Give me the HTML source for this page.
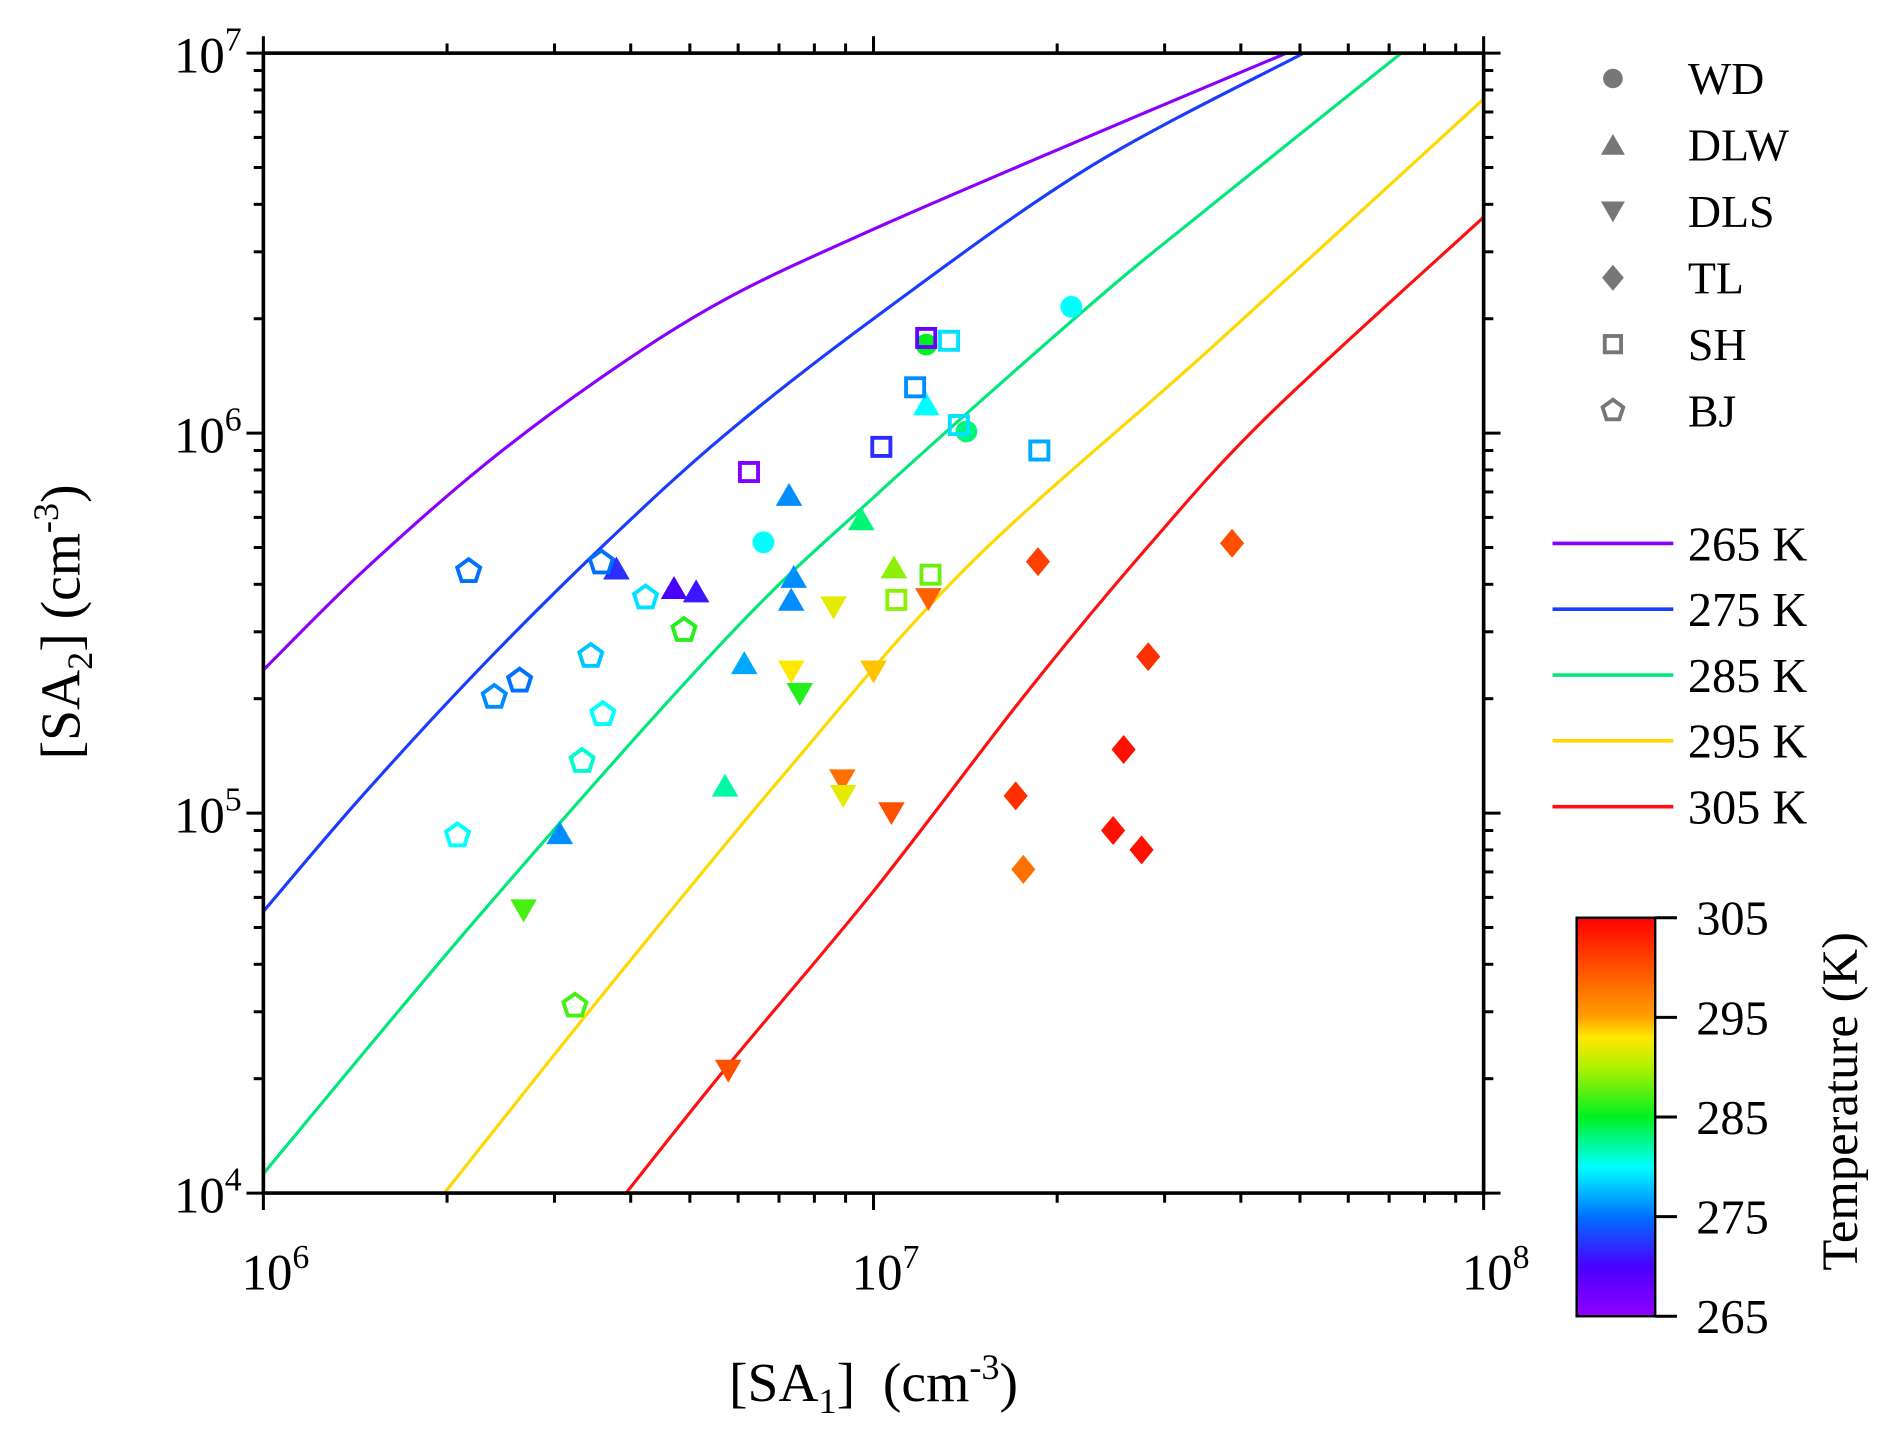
<!DOCTYPE html>
<html><head><meta charset="utf-8"><style>
html,body{margin:0;padding:0;background:#fff}
svg{display:block}
text{font-family:"Liberation Serif",serif;fill:#000}
</style></head><body>
<svg id="chart" width="1892" height="1437" viewBox="0 0 1566 1190" preserveAspectRatio="none" xmlns="http://www.w3.org/2000/svg">
<defs>
<linearGradient id="cbar" x1="0" y1="1" x2="0" y2="0">
<stop offset="0" stop-color="#9000ff"/><stop offset="0.125" stop-color="#4a00ff"/><stop offset="0.25" stop-color="#0070ff"/><stop offset="0.375" stop-color="#00ffff"/><stop offset="0.5" stop-color="#00f020"/><stop offset="0.625" stop-color="#b0f000"/><stop offset="0.7" stop-color="#ffe800"/><stop offset="0.75" stop-color="#ffa000"/><stop offset="0.875" stop-color="#ff5000"/><stop offset="1" stop-color="#ff0000"/>
</linearGradient>
<clipPath id="plotclip"><rect x="218" y="44" width="1010" height="944"/></clipPath>
</defs>
<g id="curves" clip-path="url(#plotclip)"></g>
<g id="points"></g>
<g id="axes"></g>
<g id="legend"></g>
<g id="cb"></g>
</svg>
<script>
const NS="http://www.w3.org/2000/svg";
// ---- data ----
const curveTemps=[265,275,285,295,305];
const curveColors=["#8a00ff","#1a3cff","#00e878","#ffd800","#ff1010"];
const curve265SA1=[1e6,1.45e6,2.29e6,3.62e6,5.71e6,1e7,2.24e7,4.75e7];
const curve265SA2=[2.38e5,4.30e5,8.19e5,1.418e6,2.247e6,3.44e6,6.01e6,1e7];
const curve275SA1=[1e6,1.45e6,2.29e6,3.62e6,5.71e6,1e7,2.24e7,5.07e7];
const curve275SA2=[5.51e4,1.107e5,2.45e5,5.09e5,9.9e5,2.0e6,4.97e6,1e7];
const curve285SA1=[1e6,2.29e6,5.71e6,1e7,2.24e7,3.54e7,7.33e7];
const curve285SA2=[1.125e4,5.51e4,2.86e5,6.77e5,2.14e6,3.92e6,1e7];
const curve295SA1=[1.98e6,3.62e6,7.17e6,1.42e7,3.54e7,1e8];
const curve295SA2=[1e4,3.37e4,1.277e5,4.43e5,1.65e6,7.57e6];
const curve305SA1=[3.93e6,5.71e6,1e7,1.785e7,2.815e7,4.44e7,1e8];
const curve305SA2=[1e4,2.12e4,6.23e4,2.08e5,5.02e5,1.114e6,3.7e6];
const curveSA1=[curve265SA1,curve275SA1,curve285SA1,curve295SA1,curve305SA1];
const curveSA2=[curve265SA2,curve275SA2,curve285SA2,curve295SA2,curve305SA2];

const wdSA1=[6.6e6,1.22e7,1.42e7,2.11e7];
const wdSA2=[5.16e5,1.71e6,1.01e6,2.15e6];
const wdT=[280,285,283,280];
const dlwSA1=[7.27e6,7.4e6,7.33e6,3.79e6,4.71e6,5.12e6,6.14e6,5.71e6,3.06e6,9.55e6,1.08e7,1.22e7];
const dlwSA2=[6.87e5,4.18e5,3.64e5,4.4e5,3.91e5,3.83e5,2.48e5,1.18e5,8.85e4,5.93e5,4.43e5,1.19e6];
const dlwT=[276,276,276,272,270,271,277,282,276,283,289,280];
const dlsSA1=[2.67e6,7.33e6,7.57e6,8.6e6,1e7,8.89e6,8.92e6,1.07e7,1.23e7,5.78e6];
const dlsSA2=[5.55e4,2.36e5,2.06e5,3.48e5,2.36e5,1.22e5,1.11e5,1e5,3.66e5,2.1e4];
const dlsT=[287,293,286,292,294,298,292,300,299,300];
const tlSA1=[1.86e7,3.87e7,2.82e7,2.57e7,1.71e7,1.76e7,2.47e7,2.75e7];
const tlSA2=[4.59e5,5.13e5,2.58e5,1.47e5,1.11e5,7.11e4,9.0e4,8.0e4];
const tlT=[301,300,302,304,302,298,304,304];
const shSA1=[1.22e7,1.33e7,1.17e7,1.38e7,1.03e7,6.25e6,1.87e7,1.24e7,1.09e7];
const shSA2=[1.78e6,1.75e6,1.32e6,1.05e6,9.2e5,7.9e5,9.0e5,4.24e5,3.64e5];
const shT=[268,279,276,279,272,266,277,288,289];
const bjSA1=[2.17e6,3.58e6,4.23e6,4.89e6,3.44e6,2.39e6,2.63e6,3.6e6,3.33e6,2.08e6,3.24e6];
const bjSA2=[4.33e5,4.56e5,3.69e5,3.03e5,2.59e5,2.02e5,2.23e5,1.82e5,1.37e5,8.73e4,3.11e4];
const bjT=[275,275,279,286,278,276,275,280,281,280,287];

const xTickExp=[6,7,8];
const yTickExp=[4,5,6,7];
const cbTicks=[265,275,285,295,305];
const legendNames=["WD","DLW","DLS","TL","SH","BJ"];

// ---- scales ----
const X0=218,X1=1228,Y0=988,Y1=44;
function xs(v){return X0+(Math.log10(v)-6)/2*(X1-X0);}
function ys(v){return Y0-(Math.log10(v)-4)/3*(Y0-Y1);}
const cStops=[[265,[144,0,255]],[270,[74,0,255]],[275,[0,112,255]],[280,[0,255,255]],[285,[0,240,32]],[290,[176,240,0]],[293,[255,232,0]],[295,[255,160,0]],[300,[255,80,0]],[305,[255,0,0]]];
function tcol(t){
  for(let i=0;i<cStops.length-1;i++){const a=cStops[i],b=cStops[i+1];
    if(t<=b[0]){const f=Math.max(0,(t-a[0])/(b[0]-a[0]));
      return "rgb("+a[1].map((c,k)=>Math.round(c+(b[1][k]-c)*f)).join(",")+")";}}
  return "rgb(255,0,0)";
}
function el(tag,attrs,parent){const e=document.createElementNS(NS,tag);for(const k in attrs)e.setAttribute(k,attrs[k]);parent.appendChild(e);return e;}

// curves (Catmull-Rom smoothing)
const gC=document.getElementById('curves');
curveTemps.forEach((T,ci)=>{
  const p=curveSA1[ci].map((v,i)=>[xs(v),ys(curveSA2[ci][i])]);
  let d="M"+p[0][0]+","+p[0][1];
  for(let i=0;i<p.length-1;i++){const p0=p[Math.max(0,i-1)],p1=p[i],p2=p[i+1],p3=p[Math.min(p.length-1,i+2)];
    d+=" C"+(p1[0]+(p2[0]-p0[0])/6)+","+(p1[1]+(p2[1]-p0[1])/6)+" "+(p2[0]-(p3[0]-p1[0])/6)+","+(p2[1]-(p3[1]-p1[1])/6)+" "+p2[0]+","+p2[1];}
  const path=el('path',{d:d,fill:'none',stroke:curveColors[ci],'stroke-width':2.6},gC);
  
  
});

// markers
function marker(kind,cx,cy,color,parent,size){
  const s=size||1;let e;
  if(kind==='WD'){e=el('circle',{cx:cx,cy:cy,r:9*s,fill:color},parent);}
  else if(kind==='DLW'){e=el('polygon',{points:[[cx,cy-10*s],[cx+11*s,cy+9*s],[cx-11*s,cy+9*s]].join(' '),fill:color},parent);}
  else if(kind==='DLS'){e=el('polygon',{points:[[cx,cy+10*s],[cx+11*s,cy-9*s],[cx-11*s,cy-9*s]].join(' '),fill:color},parent);}
  else if(kind==='TL'){e=el('polygon',{points:[[cx,cy-12*s],[cx+10*s,cy],[cx,cy+12*s],[cx-10*s,cy]].join(' '),fill:color},parent);}
  else if(kind==='SH'){e=el('rect',{x:cx-7.5*s,y:cy-7.5*s,width:15*s,height:15*s,fill:'none',stroke:color,'stroke-width':3.2},parent);}
  else {const pts=[];for(let k=0;k<5;k++){const a=-Math.PI/2+k*2*Math.PI/5;pts.push([cx+10*s*Math.cos(a),cy+10*s*Math.sin(a)]);}
    e=el('polygon',{points:pts.join(' '),fill:'none',stroke:color,'stroke-width':3.2},parent);}
  return e;
}
const gP=document.getElementById('points');
const series=[['WD',wdSA1,wdSA2,wdT],['DLW',dlwSA1,dlwSA2,dlwT],['DLS',dlsSA1,dlsSA2,dlsT],['TL',tlSA1,tlSA2,tlT],['SH',shSA1,shSA2,shT],['BJ',bjSA1,bjSA2,bjT]];
series.forEach(s=>{s[1].forEach((v,i)=>{
  const m=marker(s[0],xs(v),ys(s[2][i]),tcol(s[3][i]),gP);
  
  
});});

// axes
const gA=document.getElementById('axes');
const frame=el('rect',{x:X0,y:Y1,width:X1-X0,height:Y0-Y1,fill:'none',stroke:'#000','stroke-width':3},gA);


for(let e=6;e<8;e++)for(let m=1;m<10;m++){const x=xs(m*Math.pow(10,e));const L=m===1?14:8;
  el('line',{x1:x,y1:Y0,x2:x,y2:Y0+L,stroke:'#000','stroke-width':2.5},gA);
  el('line',{x1:x,y1:Y1,x2:x,y2:Y1-L,stroke:'#000','stroke-width':2.5},gA);}
el('line',{x1:X1,y1:Y0,x2:X1,y2:Y0+14,stroke:'#000','stroke-width':2.5},gA);
el('line',{x1:X1,y1:Y1,x2:X1,y2:Y1-14,stroke:'#000','stroke-width':2.5},gA);
for(let e=4;e<7;e++)for(let m=1;m<10;m++){const y=ys(m*Math.pow(10,e));const L=m===1?14:8;
  el('line',{x1:X0,y1:y,x2:X0-L,y2:y,stroke:'#000','stroke-width':2.5},gA);
  el('line',{x1:X1,y1:y,x2:X1+L,y2:y,stroke:'#000','stroke-width':2.5},gA);}
el('line',{x1:X0,y1:Y1,x2:X0-14,y2:Y1,stroke:'#000','stroke-width':2.5},gA);
el('line',{x1:X1,y1:Y1,x2:X1+14,y2:Y1,stroke:'#000','stroke-width':2.5},gA);
function pow10Label(x,y,exp,anchor,name){
  const t=el('text',{x:x,y:y,'font-size':42,'text-anchor':anchor},gA);
  t.innerHTML='10<tspan font-size="28" dy="-18">'+exp+'</tspan>';
  
  
}
xTickExp.forEach(e=>pow10Label(xs(Math.pow(10,e))+10,1068,e,'middle','x-tick-label'));
yTickExp.forEach(e=>pow10Label(200,ys(Math.pow(10,e))+16,e,'end','y-tick-label'));
const xt=el('text',{x:723,y:1160,'font-size':46,'text-anchor':'middle'},gA);
xt.innerHTML='[SA<tspan font-size="30" dy="10">1</tspan><tspan dy="-10">]&#160;&#160;(cm</tspan><tspan font-size="30" dy="-18">-3</tspan><tspan dy="18">)</tspan>';


const yt=el('text',{x:0,y:0,'font-size':46,'text-anchor':'middle',transform:'translate(66,515) rotate(-90)'},gA);
yt.innerHTML='[SA<tspan font-size="30" dy="10">2</tspan><tspan dy="-10">] (cm</tspan><tspan font-size="30" dy="-18">-3</tspan><tspan dy="18">)</tspan>';



// legend
const gL=document.getElementById('legend');
legendNames.forEach((n,i)=>{
  const y=65+i*55;
  const m=marker(n,1335,y,'#777',gL,0.9);
  
  
  const t=el('text',{x:1397,y:y+13,'font-size':38},gL);t.textContent=n;
  
  
});
curveTemps.forEach((T,i)=>{
  const y=450+i*54.5;
  const l=el('line',{x1:1285,y1:y,x2:1385,y2:y,stroke:curveColors[i],'stroke-width':3},gL);
  
  
  const t=el('text',{x:1397,y:y+14,'font-size':40},gL);t.textContent=T+' K';
  
  
});

// colorbar
const gB=document.getElementById('cb');
const CB0=1090,CB1=760;
const cr=el('rect',{x:1305,y:CB1,width:65,height:CB0-CB1,fill:'url(#cbar)',stroke:'#000','stroke-width':2},gB);


cbTicks.forEach(T=>{
  const y=CB0-(T-265)/40*(CB0-CB1);
  el('line',{x1:1370,y1:y,x2:1388,y2:y,stroke:'#000','stroke-width':2.5},gB);
  const t=el('text',{x:1404,y:y+14,'font-size':40},gB);t.textContent=T;
  
  
});
const ct=el('text',{x:0,y:0,'font-size':42,'text-anchor':'middle',transform:'translate(1537,912) rotate(-90)'},gB);
ct.textContent='Temperature (K)';


</script>
</body></html>
